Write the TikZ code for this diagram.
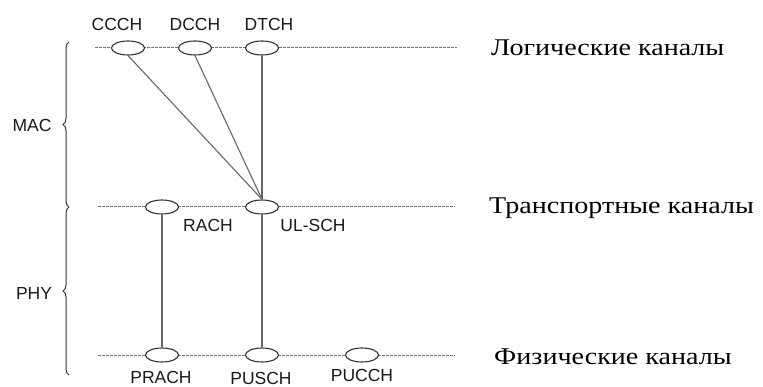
\documentclass[tikz,border=0pt]{standalone}
\usepackage{fontspec}
\setmainfont{Liberation Serif}
\newfontfamily\lsans{Liberation Sans}
\usetikzlibrary{decorations.pathreplacing,shapes.geometric}
\begin{document}
\begin{tikzpicture}[x=1pt,y=-1pt,
  chan/.style={ellipse,draw=black!80,line width=1.1pt,minimum width=33pt,minimum height=14pt,inner sep=0pt,fill=white},
  lay/.style={draw=black!55,dashed,dash pattern=on 2.5pt off 1.5pt,line width=1pt},
  conn/.style={draw=black!60,line width=1.1pt},
  lbl/.style={font=\lsans\fontsize{17.5}{18}\selectfont,text=black!90,inner sep=0pt},
  rlbl/.style={font=\fontsize{24}{26}\selectfont,anchor=west,inner sep=0pt,xscale=1.17},
  brc/.style={draw=black!80,line width=1pt,decorate,decoration={brace,amplitude=6pt}}]
\useasboundingbox (0,0) rectangle (763,387);
% layer lines
\coordinate (l1a) at (95,48);  \coordinate (l1b) at (457,48);
\coordinate (l2a) at (98,207); \coordinate (l2b) at (455,207);
\coordinate (l3a) at (98,355); \coordinate (l3b) at (455,355);
\draw[lay] (l1a) -- (l1b);
\draw[lay] (l2a) -- (l2b);
\draw[lay] (l3a) -- (l3b);
\coordinate (cT) at (128,48);
\coordinate (dT) at (195,48);
\coordinate (tT) at (262,48);
\coordinate (uT) at (262,207);
\coordinate (rT) at (162,207);
\coordinate (pr) at (162,355);
\coordinate (pu) at (262,355);
% channels
\node[chan] (ccch) at (cT) {};
\node[chan] (dcch) at (dT) {};
\node[chan] (dtch) at (tT) {};
\node[chan] (rach) at (rT) {};
\node[chan] (ulsch) at (uT) {};
\node[chan] (prach) at (pr) {};
\node[chan] (pusch) at (pu) {};
\node[chan] (pucch) at (362,355) {};
\draw[conn] (ccch.south) -- (ulsch.north);
\draw[conn] (dcch.south) -- (ulsch.north);
\draw[conn] (dtch.south) -- (ulsch.north);
\draw[conn] (rach.south) -- (prach.north);
\draw[conn] (ulsch.south) -- (pusch.north);
% labels
\node[lbl] (tccch) at (117,24) {CCCH};
\node[lbl] (tdcch) at (195,24) {DCCH};
\node[lbl] (tdtch) at (269,24) {DTCH};
\node[lbl] (trach) at (208,225) {RACH};
\node[lbl] (tulsch) at (313,225) {UL-SCH};
\node[lbl] (tprach) at (161,377) {PRACH};
\node[lbl] (tpusch) at (261,378) {PUSCH};
\node[lbl] (tpucch) at (362,375) {PUCCH};
% right labels
\node[rlbl] (log) at (491,48) {Логические каналы};
\node[rlbl] (tr) at (489,208) {Транспортные каналы};
\node[rlbl] (fiz) at (494,357) {Физические каналы};
% braces
\coordinate (b1) at (69,42); \coordinate (b2) at (69,207); \coordinate (b3) at (69,375);
\draw[brc] (b2) -- (b1);
\draw[brc] (b3) -- (b2);
\node[lbl] (mac) at (32,125) {MAC};
\node[lbl] (phy) at (34,293) {PHY};
\end{tikzpicture}
\end{document}
